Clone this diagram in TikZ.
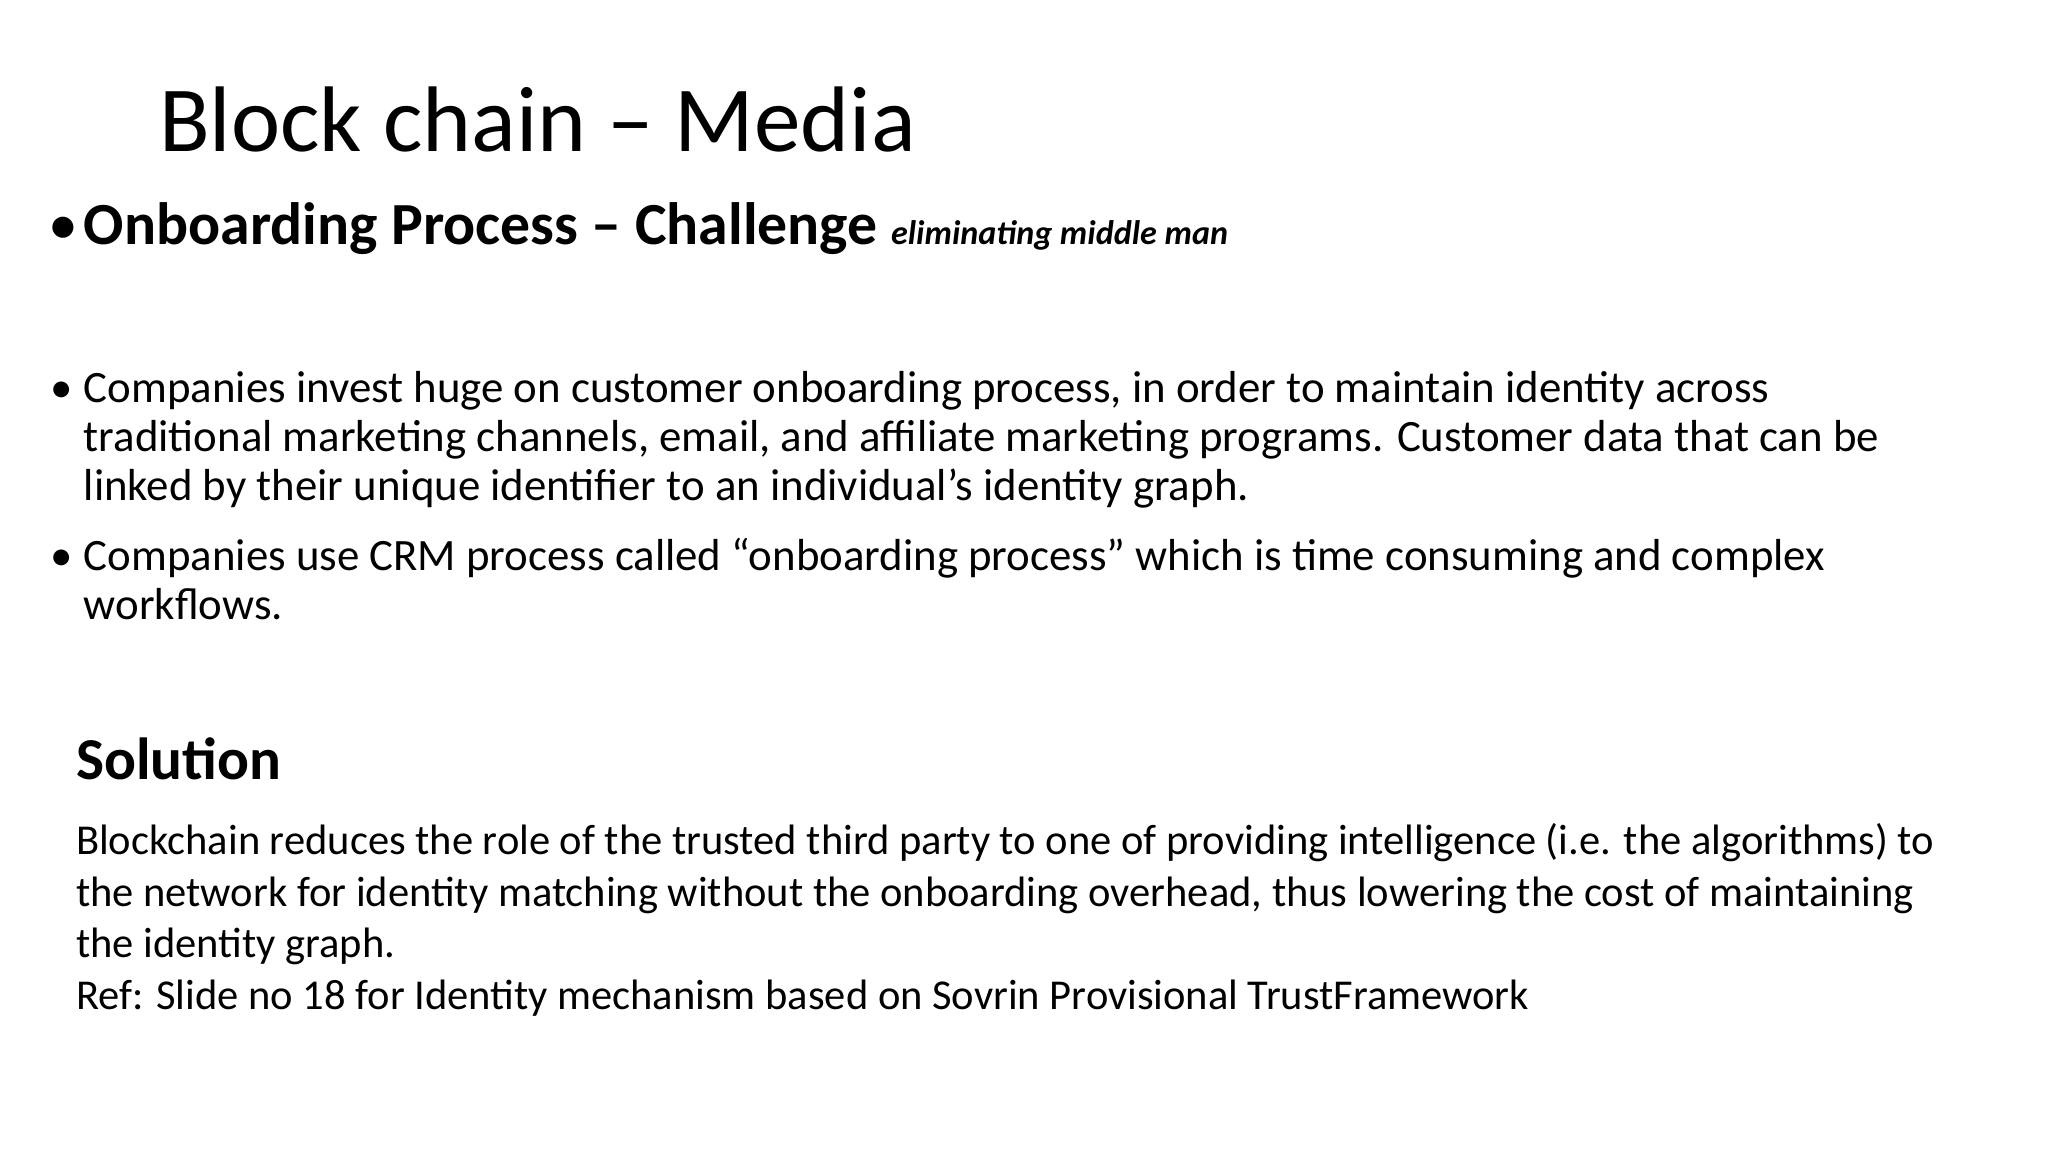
\documentclass[tikz,border=0pt]{standalone}
\usepackage{fontspec}
\setmainfont{Carlito}
\begin{document}
\begin{tikzpicture}[x=1cm,y=1cm]
\tikzset{ln/.style={anchor=base west,inner sep=0pt},
 body/.style={ln,font=\fontsize{12.76}{15}\selectfont},
 sbody/.style={ln,font=\fontsize{12.1}{15}\selectfont}}
\useasboundingbox[fill=white] (0,0) rectangle (20.48,11.52);
\node[ln,font=\fontsize{26.5}{32}\selectfont] (title) at (1.586,10.00) {Block chain – Media};
\node[ln,font=\fontsize{17}{20}\selectfont] (b1) at (0.48,9.076) {•};
\node[ln,font=\fontsize{17}{20}\selectfont\bfseries] (h1) at (0.832,9.076) {Onboarding Process – Challenge \fontsize{9.7}{12}\selectfont\itshape eliminating middle man};
\node[body] (d1) at (0.50,7.49) {•};
\node[body] (l1) at (0.832,7.49) {Companies invest huge on customer onboarding process, in order to maintain identity across};
\node[body] (l2) at (0.832,7.001) {traditional marketing channels, email, and affiliate marketing programs. Customer data that can be};
\node[body] (l3) at (0.832,6.512) {linked by their unique identifier to an individual’s identity graph.};
\node[body] (d2) at (0.50,5.812) {•};
\node[body] (l4) at (0.832,5.812) {Companies use CRM process called “onboarding process” which is time consuming and complex};
\node[body] (l5) at (0.832,5.323) {workflows.};
\node[ln,font=\fontsize{16.9}{20}\selectfont\bfseries] (sol) at (0.753,3.726) {Solution};
\node[sbody] (s1) at (0.753,2.971) {Blockchain reduces the role of the trusted third party to one of providing intelligence (i.e. the algorithms) to};
\node[sbody] (s2) at (0.753,2.456) {the network for identity matching without the onboarding overhead, thus lowering the cost of maintaining};
\node[sbody] (s3) at (0.753,1.941) {the identity graph.};
\node[sbody] (s4) at (0.753,1.425) {Ref: Slide no 18 for Identity mechanism based on Sovrin Provisional TrustFramework};
\end{tikzpicture}
\end{document}
